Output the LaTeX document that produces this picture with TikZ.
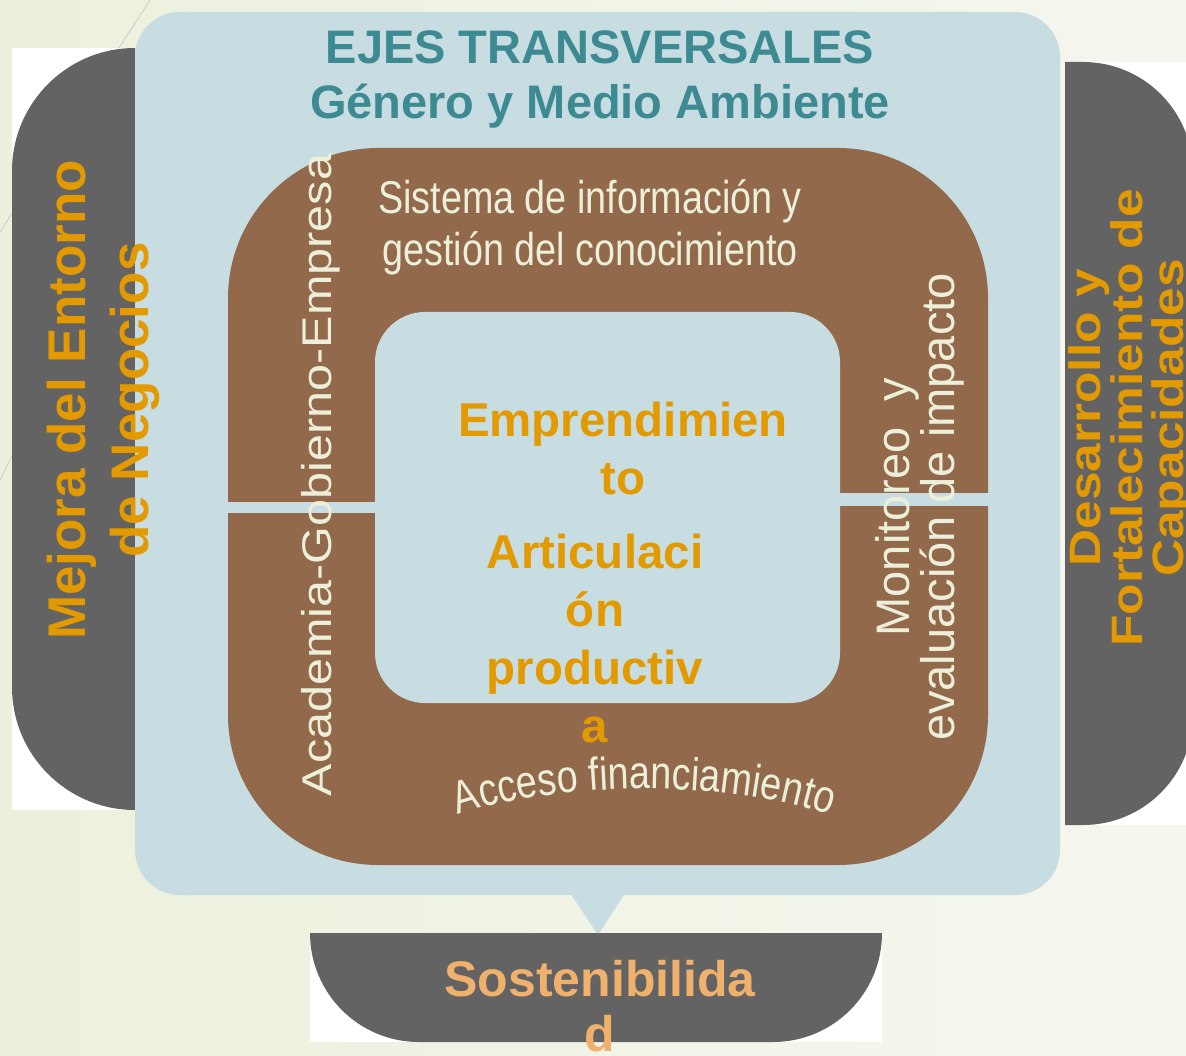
\documentclass[tikz,border=0pt]{standalone}
\usepackage{fontspec}
\setmainfont{Liberation Sans}
\newfontfamily\narrowfont[FakeStretch=0.82]{Liberation Sans}
\newfontfamily\widefont[FakeStretch=1.17]{Liberation Sans}
\usetikzlibrary{decorations.text}
\definecolor{bgleft}{HTML}{ECF0DC}
\definecolor{bgright}{HTML}{F5F7EF}
\definecolor{paleblue}{HTML}{C7DDE1}
\definecolor{boxgray}{HTML}{636363}
\definecolor{ringbrown}{HTML}{93694B}
\definecolor{ringcream}{HTML}{ECEFD9}
\definecolor{ejeteal}{HTML}{3E8A92}
\definecolor{coreorange}{HTML}{E39A00}
\definecolor{sostorange}{HTML}{F0B16D}
\begin{document}
\begin{tikzpicture}[x=1pt,y=-1pt,
		ringtext/.style={text=ringcream, align=center},
		coretext/.style={text=coreorange, align=center, font=\bfseries\fontsize{47.5}{58}\selectfont},
		sidetext/.style={text=coreorange, align=center, rotate=90}]
		\useasboundingbox (0,0) rectangle (1186,1056);
		\clip (0,0) rectangle (1186,1056);
		\shade[left color=bgleft, right color=bgright] (0,0) rectangle (1186,1056);
		\draw[gray!60, thin] (150,0) -- (0,232);
		\draw[gray!60, thin] (16,448) -- (0,480);
		\fill[white] (12,48) rectangle (135,810);
		\begin{scope}
			\clip (12,48) rectangle (135,810);
			\fill[boxgray, rounded corners=123] (12,48) rectangle (300,810);
		\end{scope}
		\fill[white] (1065,62) rectangle (1186,825);
		\begin{scope}
			\clip (1065,62) rectangle (1186,825);
			\fill[boxgray, rounded corners=110] (900,62) rectangle (1193,825);
		\end{scope}
		\fill[paleblue] (568,890) -- (627,890) -- (598,935) -- cycle;
		\fill[white] (310,933) rectangle (882,1042);
		\begin{scope}
			\clip (310,933) rectangle (882,1042);
			\fill[boxgray, rounded corners=109] (310,800) rectangle (882,1042);
		\end{scope}
		\fill[paleblue, rounded corners=45] (135,12) rectangle (1060,895);
		\fill[ringbrown, rounded corners=150] (228,148) rectangle (988,865);
		\fill[paleblue, rounded corners=50] (375,312) rectangle (840,703);
		\fill[paleblue] (225,502) rectangle (377,513);
		\fill[paleblue] (838,493) rectangle (991,506);
		\node[text=ejeteal, align=center, font=\bfseries\fontsize{47}{55}\selectfont] (ejes) at (600,79) {EJES TRANSVERSALES\\Género y Medio Ambiente};
		\node[ringtext, font=\narrowfont\fontsize{46}{52}\selectfont] (sistema) at (590,227) {Sistema de información y\\gestión del conocimiento};
		\node[ringtext, rotate=90, font=\widefont\fontsize{41.5}{50}\selectfont] (academia) at (321,475) {Academia-Gobierno-Empresa};
		\node[ringtext, rotate=90, font=\fontsize{47}{40}\selectfont] (monitoreo) at (920,507) {Monitoreo\ \ y\\evaluación de impacto};
		\path[decorate, decoration={text along path, text align=center,
			text={|\narrowfont\fontsize{46}{54}\selectfont\color{ringcream}|Acceso financiamiento}}]
			(458,815) .. controls (560,780) and (730,780) .. (830,815);
		\node[coretext] (emprend) at (623,449) {Emprendimien\\to};
		\node[coretext] (articul) at (595,639) {Articulaci\\ón\\productiv\\a};
		\node[sidetext, font=\bfseries\fontsize{53}{63}\selectfont] (entorno) at (103,400) {Mejora del Entorno\\de Negocios};
		\node[sidetext, font=\widefont\bfseries\fontsize{44}{41}\selectfont] (capacidades) at (1131,418) {Desarrollo y\\Fortalecimiento de\\Capacidades};
		\node[text=sostorange, align=center, font=\bfseries\fontsize{50}{55}\selectfont] (sostenib) at (600,1006) {Sostenibilida\\d};
\end{tikzpicture}
\end{document}
